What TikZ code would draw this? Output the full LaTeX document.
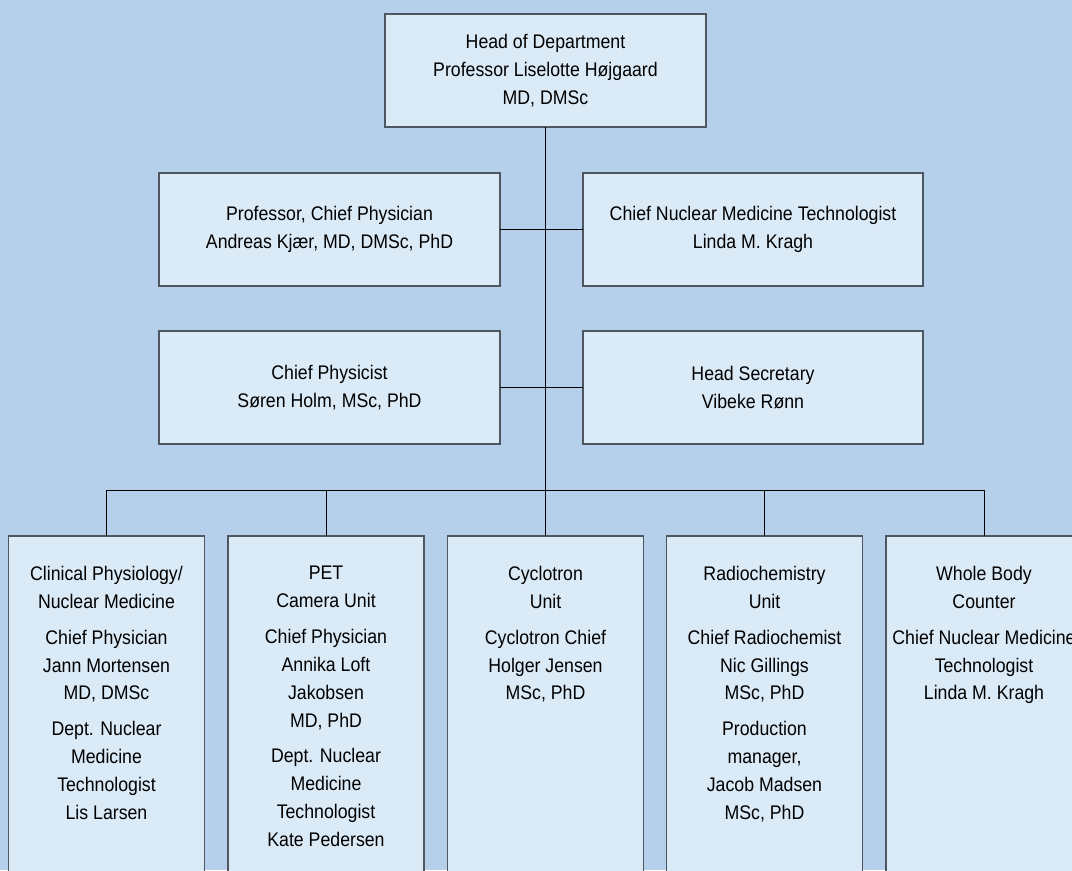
\documentclass[tikz,border=0pt]{standalone}
\usepackage{fontspec}
\setmainfont{Liberation Sans}[FakeStretch=0.9]
\usetikzlibrary{calc}
\definecolor{deptBg}{RGB}{182,207,234}
\definecolor{boxFill}{RGB}{218,234,247}
\definecolor{boxLine}{RGB}{78,86,96}
\tikzset{
	orgBox/.style={draw=boxLine, fill=boxFill, line width=0.8pt, inner sep=0pt, outer sep=0pt, align=center, font=\fontsize{14}{19.8}\selectfont},
	unitText/.style={anchor=north, inner sep=0pt, align=center, font=\fontsize{14}{19.8}\selectfont},
	link/.style={draw=black, line width=0.6pt}
}
\newcommand{\groupGap}{\\[5.7pt]}

\begin{document}
\begin{tikzpicture}[x=0.025cm, y=-0.025cm]

		\useasboundingbox (0,0) rectangle (1072,870);
		\clip (0,0) rectangle (1072,870);
		\fill[deptBg] (0,0) rectangle (1072,870);

		% top of the tree
		\node[orgBox, minimum width=8.025cm, minimum height=2.825cm] (head) at (545.5,70.5)
			{Head of Department\\Professor Liselotte Højgaard\\MD, DMSc};

		\node[orgBox, minimum width=8.525cm, minimum height=2.825cm] (prof) at (329.5,229.5)
			{Professor, Chief Physician\\Andreas Kjær, MD, DMSc, PhD};
		\node[orgBox, minimum width=8.5cm, minimum height=2.825cm] (nmt) at (753,229.5)
			{Chief Nuclear Medicine Technologist\\Linda M. Kragh};
		\node[orgBox, minimum width=8.525cm, minimum height=2.825cm] (phys) at (329.5,387.5)
			{Chief Physicist\\Søren Holm, MSc, PhD};
		\node[orgBox, minimum width=8.5cm, minimum height=2.825cm] (secr) at (753,387.5)
			{Head Secretary\\Vibeke Rønn};

		% units
		\coordinate (bus) at (545.5,490);
		\node[orgBox, minimum width=4.9cm, minimum height=9.1cm] (clin) at (106.5,718) {};
		\node[orgBox, minimum width=4.9cm, minimum height=9.1cm] (pet) at (326,718) {};
		\node[orgBox, minimum width=4.9cm, minimum height=9.1cm] (cyc) at (545.5,718) {};
		\node[orgBox, minimum width=4.9cm, minimum height=9.1cm] (radio) at (764.5,718) {};
		\node[orgBox, minimum width=4.9cm, minimum height=9.1cm] (whole) at (984,718) {};

		\node[unitText] (clinTxt) at ($(clin.north)+(0,30)$)
			{Clinical Physiology/\\Nuclear Medicine\groupGap
			Chief Physician\\Jann Mortensen\\MD, DMSc\groupGap
			Dept. Nuclear\\Medicine\\Technologist\\Lis Larsen};
		\node[unitText] (petTxt) at ($(pet.north)+(0,30)$)
			{PET\\Camera Unit\groupGap
			Chief Physician\\Annika Loft\\Jakobsen\\MD, PhD\groupGap
			Dept. Nuclear\\Medicine\\Technologist\\Kate Pedersen};
		\node[unitText] (cycTxt) at ($(cyc.north)+(0,30)$)
			{Cyclotron\\Unit\groupGap
			Cyclotron Chief\\Holger Jensen\\MSc, PhD};
		\node[unitText] (radioTxt) at ($(radio.north)+(0,30)$)
			{Radiochemistry\\Unit\groupGap
			Chief Radiochemist\\Nic Gillings\\MSc, PhD\groupGap
			Production\\manager,\\Jacob Madsen\\MSc, PhD};
		\node[unitText] (wholeTxt) at ($(whole.north)+(0,30)$)
			{Whole Body\\Counter\groupGap
			Chief Nuclear Medicine\\Technologist\\Linda M. Kragh};

		% connectors
		\draw[link] (head.south) -- (cyc.north);
		\draw[link] (prof.east) -- (nmt.west);
		\draw[link] (phys.east) -- (secr.west);
		\draw[link] (clin.north) |- (bus) -| (whole.north);
		\draw[link] (pet.north) -- (pet.north |- bus);
		\draw[link] (radio.north) -- (radio.north |- bus);

	\end{tikzpicture}
\end{document}
